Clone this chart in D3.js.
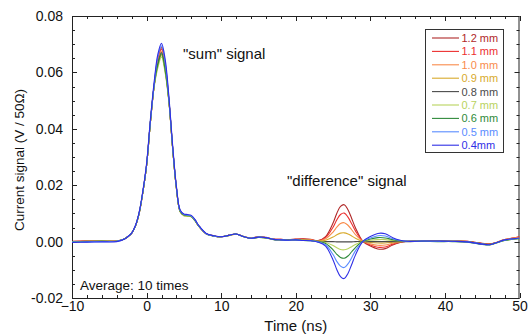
<!DOCTYPE html>
<html>
<head>
<meta charset="utf-8">
<script src="https://cdn.jsdelivr.net/npm/d3@7"></script>
<style>
  html, body { margin: 0; padding: 0; background: #fff; }
  svg { display: block; font-family: "Liberation Sans", Arial, sans-serif; }
</style>
</head>
<body>
<svg id="chart" width="529" height="334"></svg>
<script>
// ---- data ----
const times = [-10,-8,-6,-4,-3,-2.5,-2,-1.5,-1,-0.5,0,0.5,1,1.5,2,2.5,3,3.5,4,4.5,5,5.5,6,6.5,7,
  8,9,10,11,12,13,14,15,16,17,18,19,20,21,22,23,24,25,25.5,26,26.5,27,27.5,28,29,30,31,32,33,34,35,
  37,39,41,43,45,46,47,48,50];

const seriesNames = ["1.2 mm","1.1 mm","1.0 mm","0.9 mm","0.8 mm","0.7 mm","0.6 mm","0.5 mm","0.4mm"];
const seriesColors = ["#b02828","#ec2f2f","#f98b4b","#d8aa2c","#4a4a4a","#b9d35e","#2f8a3a","#5a8cff","#2f2fe6"];

const s12 = [0.0001,0.0003,0.0004,0.0002,0.0009,0.0018,0.0030,0.0055,0.0100,0.0175,0.0270,0.0420,0.0550,0.0648,0.0688,0.0628,0.0500,0.0330,0.0190,0.0108,0.0095,0.0093,0.0090,0.0075,0.0055,0.0028,0.0020,0.0017,0.0022,0.0027,0.0018,0.0013,0.0017,0.0015,0.0009,0.0008,0.0007,0.0009,0.0010,0.0008,
  0.0004,0.0018,0.0066,0.0100,0.0125,0.0131,0.0113,0.0082,0.0049,0.0001,-0.0016,-0.0026,-0.0025,-0.0012,-0.0003,0.0001,
  0.0003,0.0003,0.0002,0.0001,-0.0006,-0.0008,-0.0002,0.0007,0.0016];
const s11 = [0.0000,0.0002,0.0003,0.0002,0.0009,0.0018,0.0030,0.0055,0.0100,0.0175,0.0270,0.0420,0.0550,0.0642,0.0682,0.0622,0.0500,0.0332,0.0192,0.0109,0.0096,0.0093,0.0090,0.0075,0.0055,0.0028,0.0021,0.0017,0.0022,0.0026,0.0018,0.0012,0.0017,0.0014,0.0009,0.0008,0.0007,0.0008,0.0009,0.0007,
  0.0003,0.0014,0.0051,0.0077,0.0096,0.0101,0.0087,0.0063,0.0038,0.0001,-0.0012,-0.0020,-0.0019,-0.0009,-0.0002,0.0001,
  0.0003,0.0002,0.0002,0.0001,-0.0007,-0.0009,-0.0002,0.0006,0.0017];
const s10 = [0.0000,0.0002,0.0003,0.0002,0.0009,0.0018,0.0030,0.0055,0.0100,0.0175,0.0270,0.0420,0.0550,0.0636,0.0676,0.0616,0.0498,0.0330,0.0190,0.0108,0.0094,0.0092,0.0090,0.0075,0.0055,0.0028,0.0020,0.0017,0.0022,0.0027,0.0018,0.0012,0.0016,0.0014,0.0008,0.0007,0.0006,0.0008,0.0007,0.0006,
  0.0002,0.0010,0.0034,0.0051,0.0064,0.0067,0.0058,0.0042,0.0025,0.0001,-0.0008,-0.0013,-0.0012,-0.0006,-0.0001,0.0001,
  0.0003,0.0003,0.0002,0.0000,-0.0007,-0.0009,-0.0002,0.0007,0.0015];
const s09 = [0.0000,0.0001,0.0002,0.0002,0.0009,0.0018,0.0030,0.0055,0.0100,0.0175,0.0270,0.0420,0.0548,0.0622,0.0662,0.0602,0.0495,0.0328,0.0188,0.0106,0.0092,0.0090,0.0088,0.0074,0.0054,0.0028,0.0020,0.0017,0.0021,0.0026,0.0018,0.0012,0.0016,0.0013,0.0008,0.0007,0.0006,0.0007,0.0006,0.0005,
  0.0002,0.0005,0.0016,0.0024,0.0030,0.0031,0.0027,0.0020,0.0012,0.0001,-0.0003,-0.0005,-0.0005,-0.0002,0.0000,0.0001,
  0.0002,0.0002,0.0002,0.0000,-0.0008,-0.0010,-0.0003,0.0005,0.0013];
const s08 = [0.0000,0.0001,0.0002,0.0002,0.0009,0.0018,0.0030,0.0055,0.0100,0.0175,0.0270,0.0420,0.0550,0.0630,0.0670,0.0610,0.0497,0.0330,0.0190,0.0107,0.0094,0.0092,0.0090,0.0075,0.0055,0.0028,0.0020,0.0017,0.0022,0.0027,0.0018,0.0012,0.0016,0.0014,0.0008,0.0007,0.0006,0.0007,0.0005,0.0004,
  0.0001,0.0000,0.0000,-0.0001,-0.0001,-0.0001,-0.0001,-0.0001,0.0000,0.0000,0.0000,0.0000,0.0000,0.0000,0.0000,0.0000,
  0.0002,0.0002,0.0001,0.0000,-0.0008,-0.0010,-0.0003,0.0005,0.0012];
const s07 = [0.0000,0.0001,0.0002,0.0002,0.0009,0.0018,0.0030,0.0055,0.0100,0.0175,0.0270,0.0418,0.0545,0.0615,0.0655,0.0597,0.0492,0.0326,0.0188,0.0106,0.0092,0.0090,0.0088,0.0073,0.0054,0.0028,0.0020,0.0017,0.0021,0.0026,0.0018,0.0012,0.0016,0.0013,0.0008,0.0006,0.0005,0.0006,0.0005,0.0004,
  0.0000,-0.0003,-0.0014,-0.0022,-0.0028,-0.0029,-0.0025,-0.0018,-0.0010,0.0001,0.0005,0.0007,0.0007,0.0004,0.0002,0.0001,
  0.0002,0.0001,0.0001,-0.0001,-0.0009,-0.0011,-0.0004,0.0004,0.0011];
const s06 = [-0.0001,0.0000,0.0001,0.0001,0.0009,0.0018,0.0030,0.0055,0.0100,0.0175,0.0270,0.0420,0.0550,0.0626,0.0666,0.0606,0.0497,0.0330,0.0190,0.0108,0.0094,0.0092,0.0089,0.0074,0.0055,0.0028,0.0020,0.0017,0.0022,0.0027,0.0017,0.0011,0.0015,0.0013,0.0007,0.0006,0.0005,0.0006,0.0004,0.0003,
  0.0000,-0.0007,-0.0029,-0.0045,-0.0056,-0.0059,-0.0051,-0.0036,-0.0021,0.0001,0.0009,0.0014,0.0013,0.0007,0.0003,0.0001,
  0.0001,0.0000,0.0000,-0.0002,-0.0010,-0.0012,-0.0004,0.0004,0.0010];
const s05 = [-0.0002,-0.0001,0.0000,0.0001,0.0009,0.0018,0.0030,0.0056,0.0102,0.0177,0.0273,0.0424,0.0555,0.0654,0.0694,0.0634,0.0505,0.0335,0.0193,0.0110,0.0096,0.0094,0.0091,0.0076,0.0056,0.0028,0.0020,0.0017,0.0022,0.0027,0.0018,0.0012,0.0016,0.0014,0.0008,0.0006,0.0005,0.0006,0.0004,0.0003,
  -0.0001,-0.0011,-0.0046,-0.0070,-0.0087,-0.0092,-0.0079,-0.0057,-0.0033,0.0001,0.0013,0.0021,0.0020,0.0010,0.0004,0.0001,
  0.0002,0.0001,0.0001,-0.0001,-0.0009,-0.0011,-0.0003,0.0005,0.0012];
const s04 = [-0.0003,-0.0002,-0.0001,0.0000,0.0008,0.0018,0.0030,0.0057,0.0104,0.0180,0.0277,0.0430,0.0562,0.0663,0.0703,0.0645,0.0512,0.0340,0.0196,0.0112,0.0098,0.0096,0.0093,0.0078,0.0057,0.0029,0.0021,0.0017,0.0022,0.0027,0.0018,0.0012,0.0016,0.0014,0.0008,0.0006,0.0005,0.0006,0.0004,0.0003,
  -0.0002,-0.0016,-0.0065,-0.0099,-0.0124,-0.0131,-0.0113,-0.0081,-0.0048,0.0001,0.0018,0.0029,0.0028,0.0014,0.0005,0.0001,
  0.0002,0.0002,0.0001,-0.0001,-0.0009,-0.0011,-0.0003,0.0006,0.0013];

const seriesValues = [s12, s11, s10, s09, s08, s07, s06, s05, s04];

const xTicks = [-10, 0, 10, 20, 30, 40, 50];
const yTicks = [-0.02, 0.00, 0.02, 0.04, 0.06, 0.08];
const yTickLabels = ["-0.02", "0.00", "0.02", "0.04", "0.06", "0.08"];

// ---- layout ----
const svg = d3.select("#chart");
const L = 72, R = 519.5, T = 16, B = 298;

const x = d3.scaleLinear().domain([-10, 50]).range([L, R]);
const y = d3.scaleLinear().domain([-0.02, 0.08]).range([B, T]);

const axisColor = "#222";

// minor ticks
const xMinor = d3.range(-10, 50.01, 2).filter(v => !xTicks.includes(v));
const yMinor = d3.range(-0.02, 0.0801, 0.005).map(v => +v.toFixed(3)).filter(v => !yTicks.some(t => Math.abs(t - v) < 1e-6));

const tickG = svg.append("g").attr("stroke", axisColor).attr("stroke-width", 1);
function addTicks(vals, len) {
  vals.forEach(v => {
    const px = Math.round(x(v)) + 0.5;
    tickG.append("line").attr("x1", px).attr("x2", px).attr("y1", B).attr("y2", B - len);
    tickG.append("line").attr("x1", px).attr("x2", px).attr("y1", T).attr("y2", T + len);
  });
}
function addYTicks(vals, len) {
  vals.forEach(v => {
    const py = Math.round(y(v)) + 0.5;
    tickG.append("line").attr("x1", L).attr("x2", L + len).attr("y1", py).attr("y2", py);
    tickG.append("line").attr("x1", R).attr("x2", R - len).attr("y1", py).attr("y2", py);
  });
}
addTicks(xTicks, 5);
addTicks(xMinor, 3);
addYTicks(yTicks, 5);
addYTicks(yMinor, 3);

// tick labels via axis generators (lines hidden)
const xAxis = d3.axisBottom(x).tickValues(xTicks).tickSize(0).tickPadding(3).tickFormat(d3.format("d"));
const gx = svg.append("g").attr("transform", `translate(0,${B})`).call(xAxis);
gx.select(".domain").remove();
gx.selectAll("text").attr("font-size", 14).attr("fill", "#111").attr("font-family", "Liberation Sans, Arial, sans-serif");

const yAxis = d3.axisLeft(y).tickValues(yTicks).tickSize(0).tickPadding(9).tickFormat((d, i) => yTickLabels[i]);
const gy = svg.append("g").attr("transform", `translate(${L},0)`).call(yAxis);
gy.select(".domain").remove();
gy.selectAll("text").attr("font-size", 14).attr("fill", "#111").attr("font-family", "Liberation Sans, Arial, sans-serif");

// frame
svg.append("rect").attr("x", L + 0.5).attr("y", T + 0.5).attr("width", R - L - 1).attr("height", B - T)
  .attr("fill", "none").attr("stroke", axisColor).attr("stroke-width", 1);

// clip
svg.append("clipPath").attr("id", "clip").append("rect").attr("x", L).attr("y", T).attr("width", R - L).attr("height", B - T);

// lines
const line = d3.line().x(d => x(d[0])).y(d => y(d[1])).curve(d3.curveCatmullRom.alpha(0.5));
const lg = svg.append("g").attr("clip-path", "url(#clip)");
seriesValues.forEach((vals, i) => {
  const pts = times.map((t, j) => [t, vals[j]]).filter(p => p[1] !== undefined);
  lg.append("path").attr("d", line(pts)).attr("fill", "none")
    .attr("stroke", seriesColors[i]).attr("stroke-width", 1.1);
});

// axis titles
svg.append("text").attr("x", (L + R) / 2).attr("y", 331).attr("text-anchor", "middle")
  .attr("font-size", 15).attr("fill", "#111").text("Time (ns)");
svg.append("text").attr("transform", "translate(24,160) rotate(-90)").attr("text-anchor", "middle")
  .attr("font-size", 13.5).attr("fill", "#111").text("Current signal (V / 50Ω)");

// annotations
svg.append("text").attr("x", 183).attr("y", 59).attr("font-size", 15).attr("fill", "#111").text("\"sum\" signal");
svg.append("text").attr("x", 287).attr("y", 186).attr("font-size", 15).attr("fill", "#111").text("\"difference\" signal");
svg.append("text").attr("x", 80).attr("y", 290).attr("font-size", 13.5).attr("fill", "#111").text("Average: 10 times");

// legend
const lgX = 425, lgY = 29, lgW = 78, lgH = 123, rowH = 13.4;
const leg = svg.append("g");
leg.append("rect").attr("x", lgX + 0.5).attr("y", lgY + 0.5).attr("width", lgW).attr("height", lgH)
  .attr("fill", "#fff").attr("stroke", "#333").attr("stroke-width", 1);
seriesNames.forEach((name, i) => {
  const cy = lgY + 9 + i * rowH;
  leg.append("line").attr("x1", lgX + 7).attr("x2", lgX + 34).attr("y1", cy).attr("y2", cy)
    .attr("stroke", seriesColors[i]).attr("stroke-width", 1.1);
  leg.append("text").attr("x", lgX + 36.5).attr("y", cy + 4).attr("font-size", 11)
    .attr("fill", seriesColors[i]).text(name);
});
</script>
</body>
</html>
